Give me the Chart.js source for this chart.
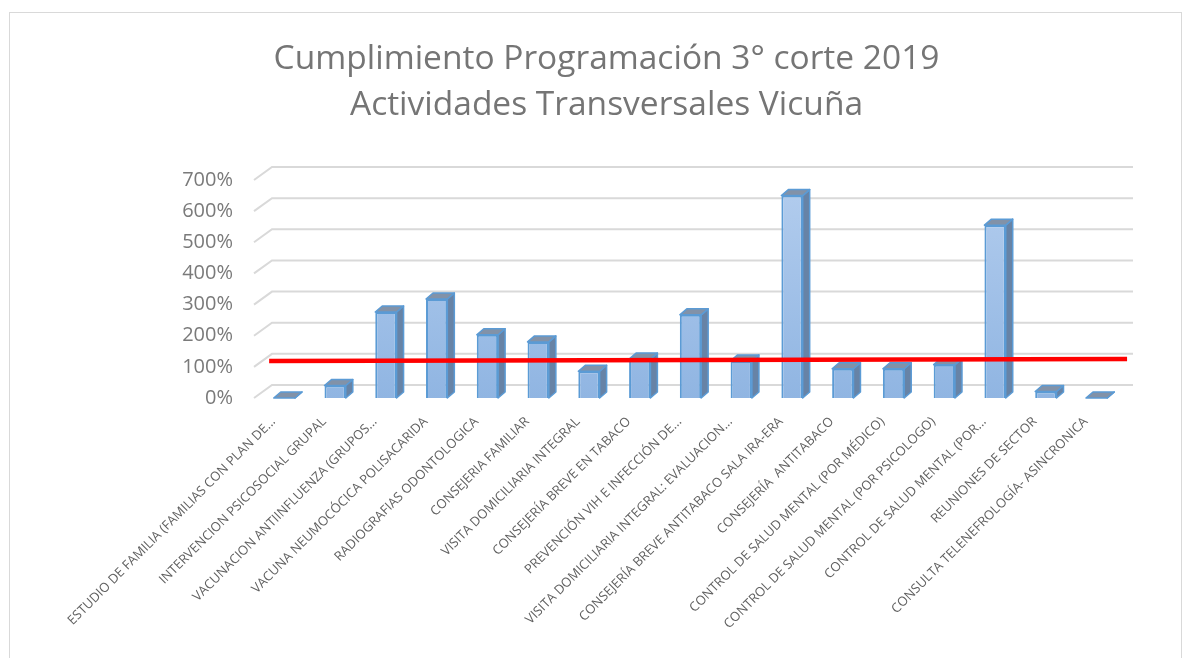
<html>
<head>
<meta charset="utf8">
<title>Cumplimiento Programación 3° corte 2019</title>
<style>
    body { margin:0; background:#fff; }
    #marco { position:absolute; left:9px; top:12px; width:1171px; height:660px; border:1px solid #d9d9d9; }
    #grafico { position:absolute; left:0; top:0; }
</style>
</head>
<body>
<div id="marco"></div>
<canvas id="grafico" width="1193" height="658"></canvas>
<script src="https://cdn.jsdelivr.net/npm/chart.js@4/dist/chart.umd.min.js"></script>
<script>
// datos del grafico
var titulo = ["Cumplimiento Programación 3° corte 2019", "Actividades Transversales Vicuña"];
var actividades = [
    "ESTUDIO DE FAMILIA (FAMILIAS CON PLAN DE...",
    "INTERVENCION PSICOSOCIAL GRUPAL",
    "VACUNACION ANTIINFLUENZA (GRUPOS...",
    "VACUNA NEUMOCÓCICA POLISACARIDA",
    "RADIOGRAFIAS ODONTOLOGICA",
    "CONSEJERIA FAMILIAR",
    "VISITA DOMICILIARIA INTEGRAL",
    "CONSEJERÍA BREVE EN TABACO",
    "PREVENCIÓN VIH E INFECCIÓN DE...",
    "VISITA DOMICILIARIA INTEGRAL: EVALUACION...",
    "CONSEJERÍA BREVE ANTITABACO SALA IRA-ERA",
    "CONSEJERÍA  ANTITABACO",
    "CONTROL DE SALUD MENTAL (POR MÉDICO)",
    "CONTROL DE SALUD MENTAL (POR PSICOLOGO)",
    "CONTROL DE SALUD MENTAL (POR...",
    "REUNIONES DE SECTOR",
    "CONSULTA TELENEFROLOGÍA- ASINCRONICA"
];
var cumplimiento = [0, 40, 276, 318, 203, 180, 86, 125, 267, 119, 650, 94, 94, 107, 555, 21, 0];
// linea roja de meta (x en unidades de categoria)
var metaX = [0.2, 17.1];
var metaY = [119, 125];
var ejeMin = 0, ejeMax = 700, ejePaso = 100;

var fuente = "'Open Sans'";

// fondo 3D: lineas de la grilla con la pared inclinada
var grilla3d = {
    id: "grilla3d",
    beforeDatasetsDraw: function(chart){
        var ctx = chart.ctx, y = chart.scales.y, a = chart.chartArea;
        ctx.save();
        ctx.strokeStyle = "#d9d9d9";
        ctx.lineWidth = 2;
        y.ticks.forEach(function(t){
            var py = y.getPixelForValue(t.value);
            ctx.beginPath();
            ctx.moveTo(a.left - 5, py);
            ctx.lineTo(a.left + 13, py - 13);
            ctx.lineTo(a.right + 11, py - 13);
            ctx.stroke();
        });
        ctx.restore();
    }
};

// caras laterales y superiores de las columnas
var columnas3d = {
    id: "columnas3d",
    afterDatasetDraw: function(chart, args){
        if (args.index !== 0) return;
        var ctx = chart.ctx, dx = 7, dy = 6;
        ctx.save();
        ctx.lineWidth = 1.5;
        ctx.strokeStyle = "#5b9bd5";
        ctx.lineJoin = "round";
        args.meta.data.forEach(function(b){
            var l = b.x - b.width / 2, r = b.x + b.width / 2, top = b.y, base = b.base;
            ctx.fillStyle = "#6783a6";
            ctx.beginPath();
            ctx.moveTo(r, top); ctx.lineTo(r + dx, top - dy);
            ctx.lineTo(r + dx, base - dy); ctx.lineTo(r, base);
            ctx.closePath(); ctx.fill(); ctx.stroke();
            ctx.fillStyle = "#8292a8";
            ctx.beginPath();
            ctx.moveTo(l, top); ctx.lineTo(l + dx, top - dy);
            ctx.lineTo(r + dx, top - dy); ctx.lineTo(r, top);
            ctx.closePath(); ctx.fill(); ctx.stroke();
        });
        ctx.restore();
    }
};

window.onload = function(){
    var c = document.getElementById("grafico");
    new Chart(c, {
        type: "bar",
        data: {
            labels: actividades,
            datasets: [{
                data: cumplimiento,
                order: 1,
                grouped: false,
                backgroundColor: function(ctx){
                    var a = ctx.chart.chartArea;
                    if (!a) return "#a3c1e8";
                    var gr = ctx.chart.ctx.createLinearGradient(0, a.top, 0, a.bottom);
                    gr.addColorStop(0, "#b3cdee");
                    gr.addColorStop(1, "#90b5e2");
                    return gr;
                },
                borderColor: "#5b9bd5",
                borderWidth: 2,
                barPercentage: 0.42,
                categoryPercentage: 1
            }, {
                type: "line",
                order: 0,
                xAxisID: "x2",
                data: metaX.map(function(x, i){ return {x: x, y: metaY[i]}; }),
                borderColor: "#ff0000",
                borderWidth: 4.5,
                pointRadius: 0,
                clip: false
            }]
        },
        options: {
            responsive: false,
            animation: false,
            layout: { padding: { left: 30, right: 10, top: 0, bottom: 0 } },
            plugins: {
                legend: { display: false },
                tooltip: { enabled: false },
                title: {
                    display: true,
                    text: titulo,
                    color: "#757575",
                    font: { family: fuente, size: 33.5, weight: "normal", lineHeight: 1.373 },
                    padding: { top: 36, bottom: 52 }
                }
            },
            scales: {
                x: {
                    grid: { display: false, drawTicks: false },
                    border: { display: false },
                    ticks: {
                        color: "#606060",
                        autoSkip: false,
                        minRotation: 45,
                        maxRotation: 45,
                        padding: 16,
                        labelOffset: -11,
                        font: { family: fuente, size: 13 }
                    },
                    afterFit: function(s){ s.height = 260; }
                },
                x2: { type: "linear", display: false, offset: false, min: 0, max: actividades.length },
                y: {
                    min: ejeMin,
                    max: ejeMax,
                    grid: { display: false, drawTicks: false },
                    border: { display: false },
                    ticks: {
                        stepSize: ejePaso,
                        color: "#7a7a7a",
                        padding: 26,
                        font: { family: fuente, size: 20 },
                        callback: function(v){ return v + "%"; }
                    },
                    afterFit: function(s){ s.width = 229; }
                },
                yr: {
                    position: "right",
                    grid: { display: false, drawTicks: false },
                    border: { display: false },
                    ticks: { display: false },
                    afterFit: function(s){ s.width = 61; }
                }
            }
        },
        plugins: [grilla3d, columnas3d]
    });
};
</script>
</body>
</html>
